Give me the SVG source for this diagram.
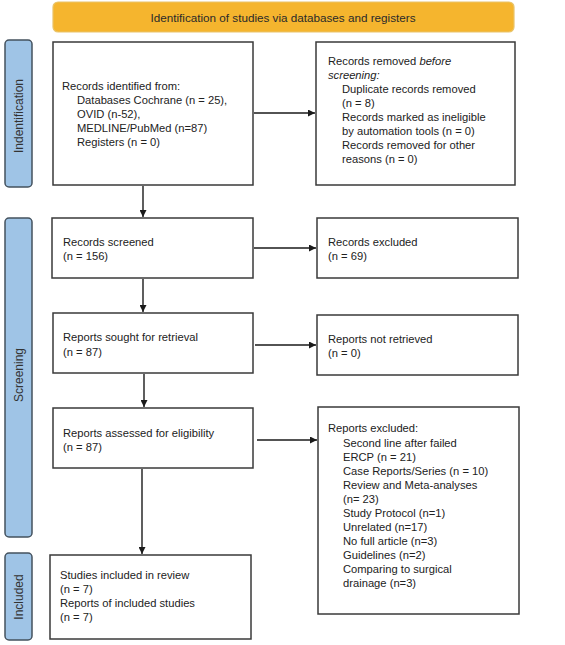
<svg xmlns="http://www.w3.org/2000/svg" width="565" height="645" viewBox="0 0 565 645">
<style>
text{font-family:"Liberation Sans",Arial,sans-serif;font-size:11.2px;fill:#222}
.box{fill:#fff;stroke:#3a3a3a;stroke-width:1.5}
.side{fill:#9fc4e6;stroke:#44525e;stroke-width:1.5}
.lbl{text-anchor:middle}
.ban{text-anchor:middle;font-size:11.7px;fill:#2a2a2a}
.sl{text-anchor:middle;font-size:12px;fill:#333}
.con{stroke:#1a1a1a;stroke-width:1.4;fill:none}
</style>
<defs>
<marker id="ah" viewBox="0 0 10 10" refX="10" refY="5" markerWidth="7" markerHeight="7" markerUnits="userSpaceOnUse" orient="auto">
<path d="M0,0 L10,5 L0,10 z" fill="#1a1a1a"/>
</marker>
</defs>
<g id="banner">
<rect x="53" y="2" width="461" height="30" rx="5" fill="#f5b52e" stroke="#e9c46a" stroke-width="1.2"/>
<text class="ban" x="283" y="21.5">Identification of studies via databases and registers</text>
</g>
<g id="side-identification">
<rect class="side" x="5" y="40" width="27" height="147" rx="4"/>
<text class="sl" transform="translate(22.5,116) rotate(-90)">Indentification</text>
</g>
<g id="side-screening">
<rect class="side" x="5" y="218" width="27" height="319" rx="4"/>
<text class="sl" transform="translate(22.5,375) rotate(-90)">Screening</text>
</g>
<g id="side-included">
<rect class="side" x="5" y="553" width="27" height="87" rx="4"/>
<text class="sl" transform="translate(22.5,597) rotate(-90)">Included</text>
</g>
<g id="n-identified">
<rect class="box" x="53" y="42" width="200" height="143"/>
<text x="62" y="90">Records identified from:</text>
<text x="77" y="104">Databases Cochrane (n = 25),</text>
<text x="77" y="118">OVID (n-52),</text>
<text x="77" y="132">MEDLINE/PubMed (n=87)</text>
<text x="77" y="146">Registers (n = 0)</text>
</g>
<g id="n-removed">
<rect class="box" x="316" y="42" width="199" height="143"/>
<text x="328" y="65">Records removed <tspan font-style="italic">before</tspan></text>
<text x="328" y="79" font-style="italic">screening:</text>
<text x="342" y="93">Duplicate records removed</text>
<text x="342" y="107">(n = 8)</text>
<text x="342" y="121">Records marked as ineligible</text>
<text x="342" y="135">by automation tools (n = 0)</text>
<text x="342" y="149">Records removed for other</text>
<text x="342" y="163">reasons (n = 0)</text>
</g>
<g id="n-screened">
<rect class="box" x="52" y="218" width="201" height="60"/>
<text x="63" y="246">Records screened</text>
<text x="63" y="260">(n = 156)</text>
</g>
<g id="n-excluded">
<rect class="box" x="317" y="218" width="201" height="60"/>
<text x="328" y="246">Records excluded</text>
<text x="328" y="260">(n = 69)</text>
</g>
<g id="n-sought">
<rect class="box" x="53" y="313" width="200" height="60"/>
<text x="63" y="341">Reports sought for retrieval</text>
<text x="63" y="356">(n = 87)</text>
</g>
<g id="n-notretrieved">
<rect class="box" x="317" y="315" width="201" height="60"/>
<text x="328" y="343">Reports not retrieved</text>
<text x="328" y="357">(n = 0)</text>
</g>
<g id="n-assessed">
<rect class="box" x="53" y="408" width="200" height="60"/>
<text x="63" y="437">Reports assessed for eligibility</text>
<text x="63" y="451">(n = 87)</text>
</g>
<g id="n-reportsexcluded">
<rect class="box" x="318" y="407" width="201" height="207"/>
<text x="328" y="432">Reports excluded:</text>
<text x="343" y="447">Second line after failed</text>
<text x="343" y="461">ERCP (n = 21)</text>
<text x="343" y="475">Case Reports/Series (n = 10)</text>
<text x="343" y="489">Review and Meta-analyses</text>
<text x="343" y="503">(n= 23)</text>
<text x="343" y="517">Study Protocol (n=1)</text>
<text x="343" y="531">Unrelated (n=17)</text>
<text x="343" y="545">No full article (n=3)</text>
<text x="343" y="559">Guidelines (n=2)</text>
<text x="343" y="573">Comparing to surgical</text>
<text x="343" y="587">drainage (n=3)</text>
</g>
<g id="n-included">
<rect class="box" x="50" y="555" width="201" height="84"/>
<text x="60" y="579">Studies included in review</text>
<text x="60" y="593">(n = 7)</text>
<text x="60" y="607">Reports of included studies</text>
<text x="60" y="621">(n = 7)</text>
</g>
<g id="connectors">
<line class="con" x1="254" y1="113" x2="315" y2="113" marker-end="url(#ah)"/>
<line class="con" x1="143" y1="186" x2="143" y2="217" marker-end="url(#ah)"/>
<line class="con" x1="254" y1="248" x2="316" y2="248" marker-end="url(#ah)"/>
<line class="con" x1="143" y1="279" x2="143" y2="312" marker-end="url(#ah)"/>
<line class="con" x1="255" y1="345" x2="316" y2="345" marker-end="url(#ah)"/>
<line class="con" x1="144" y1="374" x2="144" y2="407" marker-end="url(#ah)"/>
<line class="con" x1="257" y1="440" x2="317" y2="440" marker-end="url(#ah)"/>
<line class="con" x1="142" y1="469" x2="142" y2="554" marker-end="url(#ah)"/>
</g>
</svg>
